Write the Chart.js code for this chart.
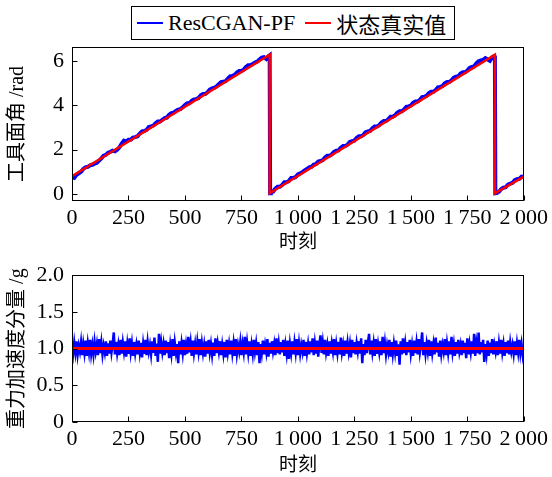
<!DOCTYPE html>
<html>
<head>
<meta charset="utf-8">
<script src="https://cdn.jsdelivr.net/npm/chart.js@4.4.1/dist/chart.umd.min.js"></script>
<style>
  body { margin: 0; background: #fff; }
  #wrap { position: relative; width: 552px; height: 477px; font-family: "Liberation Serif", "Noto Sans CJK SC", serif; }
  canvas { position: absolute; left: 0; }
  #legend {
    position: absolute; left: 131px; top: 6px; width: 324px; height: 34px; box-sizing: border-box;
    border: 1px solid #000; display: flex; align-items: center; padding-left: 5px;
    font-size: 22px; white-space: nowrap;
  }
  #legend .sw { flex: none; display: block; width: 26px; height: 2px; margin-right: 5px; }
</style>
</head>
<body>
<div id="wrap">
  <div id="legend">
    <span class="sw" style="background:#0000ff"></span><span>ResCGAN-PF</span>
    <span class="sw" style="background:#ff0000; margin-left:10px"></span><span>状态真实值</span>
  </div>
  <canvas id="angle-chart" width="552" height="254" style="top:0"></canvas>
  <canvas id="grav-chart" width="552" height="223" style="top:254px"></canvas>
</div>
<script>
// 工具面角: 状态真实值 (锯齿波拐点)
const truthT = [0, 875, 875, 1872, 1872, 2000];
const truthAngle = [0.80, 6.27, 0.03, 6.27, 0.03, 0.78];

// 工具面角: ResCGAN-PF 估计
const estT = [
  0, 10, 20, 30, 40, 50, 60, 70, 80, 90, 100, 110, 120, 130, 140, 150, 160, 170, 180, 190,
  200, 210, 220, 230, 240, 250, 260, 270, 280, 290, 300, 310, 320, 330, 340, 350, 360, 370, 380, 390,
  400, 410, 420, 430, 440, 450, 460, 470, 480, 490, 500, 510, 520, 530, 540, 550, 560, 570, 580, 590,
  600, 610, 620, 630, 640, 650, 660, 670, 680, 690, 700, 710, 720, 730, 740, 750, 760, 770, 780, 790,
  800, 810, 820, 830, 840, 850, 860, 870, 875, 877,
  880, 890, 900, 910, 920, 930, 940, 950, 960, 970, 980, 990,
  1000, 1010, 1020, 1030, 1040, 1050, 1060, 1070, 1080, 1090, 1100, 1110, 1120, 1130, 1140, 1150, 1160, 1170, 1180, 1190,
  1200, 1210, 1220, 1230, 1240, 1250, 1260, 1270, 1280, 1290, 1300, 1310, 1320, 1330, 1340, 1350, 1360, 1370, 1380, 1390,
  1400, 1410, 1420, 1430, 1440, 1450, 1460, 1470, 1480, 1490, 1500, 1510, 1520, 1530, 1540, 1550, 1560, 1570, 1580, 1590,
  1600, 1610, 1620, 1630, 1640, 1650, 1660, 1670, 1680, 1690, 1700, 1710, 1720, 1730, 1740, 1750, 1760, 1770, 1780, 1790,
  1800, 1810, 1820, 1830, 1840, 1850, 1860, 1870, 1872, 1874,
  1880, 1890, 1900, 1910, 1920, 1930, 1940, 1950, 1960, 1970, 1980, 1990, 2000
];
const estAngle = [
  0.76, 0.72, 0.86, 0.93, 1.00, 1.12, 1.20, 1.22, 1.29, 1.31, 1.36, 1.40, 1.50, 1.60, 1.72, 1.76, 1.86, 1.90, 1.95, 1.92,
  1.99, 2.10, 2.26, 2.40, 2.36, 2.44, 2.44, 2.54, 2.56, 2.60, 2.72, 2.82, 2.83, 2.88, 3.01, 3.04, 3.08, 3.18, 3.26, 3.26,
  3.34, 3.42, 3.44, 3.57, 3.64, 3.66, 3.74, 3.80, 3.82, 3.90, 4.01, 4.08, 4.08, 4.20, 4.26, 4.27, 4.32, 4.44, 4.50, 4.50,
  4.58, 4.70, 4.76, 4.78, 4.84, 4.94, 5.04, 5.06, 5.08, 5.20, 5.30, 5.32, 5.36, 5.47, 5.54, 5.54, 5.60, 5.72, 5.80, 5.80,
  5.86, 5.92, 5.96, 6.06, 6.14, 6.16, 6.08, 6.20, 6.24, 0.03,
  0.08, 0.10, 0.24, 0.32, 0.32, 0.40, 0.52, 0.52, 0.58, 0.72, 0.72, 0.76,
  0.88, 0.92, 0.98, 1.06, 1.12, 1.20, 1.22, 1.32, 1.34, 1.46, 1.48, 1.52, 1.64, 1.72, 1.72, 1.78, 1.90, 1.95, 1.96, 2.08,
  2.16, 2.16, 2.22, 2.34, 2.38, 2.40, 2.52, 2.60, 2.60, 2.66, 2.78, 2.82, 2.84, 2.96, 3.04, 3.04, 3.10, 3.22, 3.28, 3.28,
  3.36, 3.48, 3.48, 3.54, 3.66, 3.72, 3.72, 3.80, 3.92, 3.94, 3.98, 4.10, 4.16, 4.16, 4.24, 4.36, 4.38, 4.42, 4.54, 4.60,
  4.60, 4.68, 4.80, 4.82, 4.86, 4.98, 5.04, 5.04, 5.12, 5.24, 5.28, 5.30, 5.42, 5.48, 5.48, 5.56, 5.68, 5.72, 5.74, 5.88,
  5.98, 6.02, 6.04, 6.12, 6.06, 6.00, 6.16, 6.22, 6.24, 0.03,
  0.04, 0.10, 0.22, 0.28, 0.30, 0.42, 0.46, 0.50, 0.62, 0.66, 0.68, 0.78, 0.76
];

// 重力加速度分量: 真实值与估计 (每 5 个时刻一个点)
const gravStep = 5;
const gravTruth = 1.0;
const gravEst = [
  1.05, 0.93, 1.08, 0.95, 1.10, 0.92, 1.04, 0.96, 1.09, 0.91,
  1.06, 0.94, 1.11, 0.90, 1.07, 0.95, 1.12, 0.93, 1.05, 0.92,
  1.09, 0.96, 1.06, 0.91, 1.13, 0.94, 1.08, 0.92, 1.04, 0.95,
  1.10, 0.90, 1.07, 0.93, 1.11, 0.95, 1.06, 1.22, 0.92, 1.09,
  0.94, 1.05, 0.91, 1.12, 0.93, 1.08, 0.96, 1.10, 0.89, 1.06,
  0.93, 1.14, 0.95, 1.07, 0.90, 1.09, 0.94, 1.05, 0.92, 1.11,
  0.95, 1.08, 0.88, 1.06, 0.93, 1.12, 0.91, 1.09, 0.96, 1.05,
  0.92, 1.10, 0.94, 1.15, 0.90, 1.07, 0.82, 1.20, 0.93, 1.08,
  0.95, 1.06, 0.91, 1.11, 0.94, 1.09, 0.87, 1.05, 0.93, 1.13,
  0.90, 1.08, 0.95, 1.06, 0.80, 1.10, 0.92, 1.07, 0.94, 1.12,
  0.91, 1.05, 0.93, 1.16, 0.95, 1.08, 0.90, 1.11, 0.94, 1.06,
  0.92, 1.09, 0.96, 1.13, 0.91, 1.07, 0.94, 1.05, 0.89, 1.10,
  0.93, 1.12, 0.95, 1.06, 0.92, 1.08, 0.90, 1.14, 0.94, 1.07,
  0.96, 1.10, 0.91, 1.05, 0.93, 1.09, 0.88, 1.12, 0.95, 1.06,
  0.92, 1.11, 0.94, 1.07, 0.90, 1.13, 0.93, 1.05, 0.96, 1.09,
  0.91, 1.06, 0.95, 1.16, 0.92, 1.08, 0.94, 1.10, 0.90, 1.05,
  0.93, 1.12, 0.96, 1.07, 0.91, 1.09, 0.80, 1.06, 0.94, 1.11,
  0.92, 1.05, 0.95, 1.13, 0.89, 1.08, 0.93, 1.10, 0.96, 1.06,
  0.91, 1.14, 0.94, 1.07, 0.92, 1.09, 0.95, 1.12, 0.90, 1.05,
  0.93, 1.11, 0.86, 1.06, 0.94, 1.10, 0.92, 1.08, 0.95, 1.13,
  0.91, 1.07, 0.93, 1.05, 0.96, 1.12, 0.90, 1.09, 0.94, 1.06,
  0.92, 1.10, 0.95, 1.14, 0.91, 1.07, 0.93, 1.11, 0.89, 1.06,
  1.18, 0.94, 1.08, 0.92, 1.12, 0.95, 1.05, 0.90, 1.10, 0.93,
  1.07, 0.96, 1.13, 0.91, 1.06, 0.94, 1.09, 0.92, 1.15, 0.95,
  1.05, 0.90, 1.11, 0.93, 1.08, 0.95, 1.06, 0.88, 1.12, 0.94,
  1.09, 0.92, 1.07, 0.96, 1.10, 0.93, 1.14, 0.80, 1.06, 0.91,
  1.12, 0.94, 1.08, 1.20, 0.92, 1.11, 0.95, 1.07, 0.90, 1.13,
  0.93, 1.06, 0.95, 1.10, 0.91, 1.16, 0.94, 1.08, 0.92, 1.05,
  0.96, 1.12, 0.89, 1.09, 0.93, 1.07, 0.95, 1.11, 0.90, 1.06,
  0.78, 1.10, 0.92, 1.14, 0.94, 1.07, 0.91, 1.09, 0.95, 1.12,
  0.93, 1.05, 0.90, 1.11, 0.94, 1.08, 0.92, 1.13, 0.95, 1.06,
  1.22, 0.91, 1.09, 0.93, 1.07, 0.96, 1.12, 0.90, 1.10, 0.94,
  1.06, 0.92, 1.15, 0.95, 1.08, 0.89, 1.11, 0.93, 1.05, 0.96,
  1.13, 0.91, 1.07, 0.94, 1.10, 0.92, 1.16, 0.95, 1.06, 0.90,
  1.09, 0.93, 1.12, 0.96, 1.05, 0.91, 1.11, 0.94, 1.08, 0.87,
  1.14, 0.92, 1.06, 0.95, 1.10, 0.93, 1.20, 0.90, 1.07, 0.94,
  1.22, 0.92, 1.09, 0.95, 1.12, 0.82, 1.06, 0.93, 1.11, 0.90,
  1.08, 0.94, 1.13, 0.92, 1.05, 0.96, 1.10, 0.91, 1.07, 0.93,
  1.12, 0.95, 1.06, 0.90, 1.09, 0.94, 1.11, 0.92, 1.08, 0.96,
  1.05, 0.93, 1.10, 0.91, 1.07, 0.95, 1.12, 0.94, 1.06, 0.92,
  1.04
];

// 刻度
const xTicks = [0, 250, 500, 750, 1000, 1250, 1500, 1750, 2000];
const angleTicks = [0, 2, 4, 6];
const gravTicks = [0, 0.5, 1.0, 1.5, 2.0];

const FONT = "'Liberation Serif', 'Noto Sans CJK SC', serif";

function pts(xs, ys) {
  return xs.map((x, i) => ({ x: x, y: ys[i] }));
}

function fmtX(v) {
  const s = String(v);
  return s.length > 3 ? s.slice(0, s.length - 3) + "\u2009" + s.slice(-3) : s;
}

// Kotak dan tick ke dalam
const boxTicks = {
  id: "boxTicks",
  afterDraw(chart) {
    const { ctx, chartArea: a, scales } = chart;
    ctx.save();
    ctx.strokeStyle = "#000";
    ctx.lineWidth = 1;
    const L = Math.round(a.left) + 0.5, R = Math.round(a.right) - 0.5;
    const T = Math.round(a.top) + 0.5, B = Math.round(a.bottom) - 0.5;
    ctx.strokeRect(L, T, R - L, B - T);
    ctx.beginPath();
    scales.x.ticks.forEach((t, i) => {
      const px = Math.round(scales.x.getPixelForTick(i)) + 0.5;
      ctx.moveTo(px, B);
      ctx.lineTo(px, B - 5);
    });
    scales.y.ticks.forEach((t, i) => {
      const py = Math.round(scales.y.getPixelForTick(i)) + 0.5;
      ctx.moveTo(L, py);
      ctx.lineTo(L + 5, py);
    });
    ctx.stroke();
    ctx.restore();
  },
};

function makeChart(id, datasets, yOpts, yTitle, top, xHeight) {
  const ctx = document.getElementById(id).getContext("2d");
  return new Chart(ctx, {
    type: "line",
    data: { datasets: datasets },
    options: {
      responsive: false,
      animation: false,
      layout: { padding: { left: 0, top: top, right: 27, bottom: 0 } },
      plugins: { legend: { display: false }, tooltip: { enabled: false } },
      elements: { point: { radius: 0 }, line: { tension: 0 } },
      scales: {
        x: {
          type: "linear",
          min: 0,
          max: 2000,
          grid: { display: false, drawTicks: false },
          border: { display: false },
          afterBuildTicks: (s) => { s.ticks = xTicks.map((v) => ({ value: v })); },
          afterFit: (s) => { s.height = xHeight; },
          ticks: {
            padding: 4,
            color: "#000",
            maxRotation: 0,
            font: { family: FONT, size: 22 },
            callback: (v) => fmtX(v),
          },
          title: {
            display: true,
            text: "时刻",
            color: "#000",
            padding: { top: 0, bottom: 0 },
            font: { family: FONT, size: 19 },
          },
        },
        y: Object.assign({
          grid: { display: false, drawTicks: false },
          border: { display: false },
          afterFit: (s) => { s.width = 72; },
          title: {
            display: true,
            text: yTitle,
            color: "#000",
            padding: { top: 6, bottom: 0 },
            font: { family: FONT, size: 20 },
          },
        }, yOpts),
      },
    },
    plugins: [boxTicks],
  });
}

document.addEventListener("DOMContentLoaded", () => {
  makeChart(
    "angle-chart",
    [
      { data: pts(truthT, truthAngle), borderColor: "#ff0000", borderWidth: 2.5 },
      { data: pts(estT, estAngle), borderColor: "#0000ff", borderWidth: 4 },
    ],
    {
      min: -0.32,
      max: 6.62,
      afterBuildTicks: (s) => { s.ticks = angleTicks.map((v) => ({ value: v })); },
      ticks: { padding: 8, color: "#000", font: { family: FONT, size: 22 }, callback: (v) => String(v) },
    },
    "工具面角 /rad",
    47,
    53
  );

  const gT = gravEst.map((v, i) => i * gravStep);
  makeChart(
    "grav-chart",
    [
      { data: [{ x: 0, y: gravTruth }, { x: 2000, y: gravTruth }], borderColor: "#ff0000", borderWidth: 3 },
      { data: pts(gT, gravEst), borderColor: "#0000ff", borderWidth: 2.5 },
    ],
    {
      min: 0,
      max: 2,
      afterBuildTicks: (s) => { s.ticks = gravTicks.map((v) => ({ value: v })); },
      ticks: {
        padding: 8,
        color: "#000",
        font: { family: FONT, size: 22 },
        callback: (v) => (v === 0 ? "0" : v.toFixed(1)),
      },
    },
    "重力加速度分量 /g",
    14,
    55
  );
});
</script>
</body>
</html>
